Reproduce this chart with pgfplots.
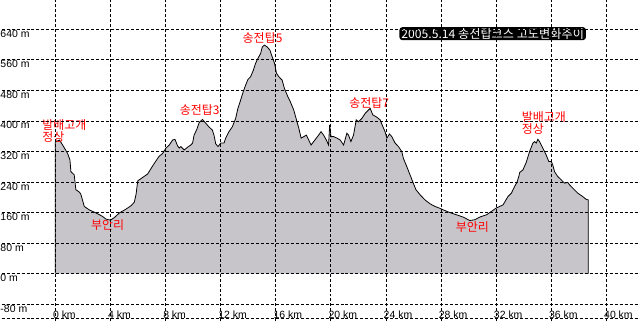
\documentclass[border=0pt]{standalone}
\usepackage{pgfplots}
\usepackage{pgfplotstable}
\usepackage{fontspec}
\pgfplotsset{compat=1.18}
\setmainfont{Liberation Sans}
\newfontfamily\kr{Noto Sans CJK KR}
\definecolor{fillgray}{RGB}{199,197,202}
\definecolor{lblred}{RGB}{255,0,0}
\pgfplotstableread{
km m
0 0
0 345
0.3 350
0.53 337
0.89 315
1.06 298
1.13 267
1.37 259
1.49 220
1.76 213
1.86 207
2.10 176
2.46 167
2.94 159
3.42 150
3.66 143
4.00 140
4.29 147
4.65 159
5.13 169
5.50 178
5.73 187
5.86 208
5.98 243
6.34 252
6.70 261
7.06 282
7.30 295
7.52 307
7.79 315
8.03 329
8.27 337
8.51 350
8.68 352
8.87 335
8.99 329
9.11 333
9.35 324
9.59 331
9.83 337
9.96 342
10.07 363
10.27 378
10.44 396
10.68 404
10.92 394
11.16 384
11.40 376
11.52 362
11.64 340
11.81 333
12.00 342
12.24 342
12.36 355
12.60 372
12.85 385
13.09 407
13.25 433
13.45 455
13.64 477
13.81 494
13.98 509
14.17 516
14.37 533
14.53 551
14.70 564
14.90 577
15.02 594
15.18 599
15.38 594
15.57 586
15.74 568
15.91 551
16.05 525
16.22 516
16.46 507
16.63 485
16.87 464
17.06 450
17.30 429
17.50 403
17.67 381
17.84 355
18.03 359
18.22 363
18.39 350
18.56 337
18.75 346
18.94 355
19.11 363
19.28 372
19.47 363
19.67 350
19.83 337
19.91 390
20.01 359
20.20 359
20.44 355
20.68 350
20.92 337
21.16 368
21.28 363
21.45 346
21.64 363
21.84 403
22.00 398
22.25 407
22.49 420
22.73 429
22.85 433
23.04 416
23.33 410
23.57 403
23.77 385
23.93 372
24.06 355
24.25 366
24.42 359
24.66 342
24.90 333
25.14 320
25.26 302
25.50 281
25.74 259
25.98 237
26.17 220
26.46 207
26.83 193
27.19 183
27.55 176
27.91 171
28.15 167
28.63 160
29.12 154
29.60 148
30.08 139
30.44 141
30.80 148
31.29 154
31.65 163
32.01 172
32.49 180
32.85 202
33.10 211
33.33 228
33.50 239
33.65 256
33.70 265
33.94 272
34.18 292
34.42 320
34.66 342
34.78 346
34.90 342
35.02 352
35.14 346
35.38 329
35.62 311
35.81 294
35.99 294
36.10 285
36.23 267
36.47 254
36.71 246
36.95 237
37.19 239
37.31 233
37.55 224
37.91 211
38.27 202
38.51 195
38.68 193
38.68 0
}\profile
\begin{document}
\begin{tikzpicture}
\begin{axis}[
  scale only axis, width=640pt, height=322pt,
  xmin=-3.9, xmax=42.4, ymin=-125.5, ymax=716,
  axis line style={draw=none},
  axis on top,
  xtick={0,4,...,40},
  xticklabels={0 km,4 km,8 km,12 km,16 km,20 km,24 km,28 km,32 km,36 km,40 km},
  ytick={-80,0,...,640},
  yticklabels={-80 m,0 m,80 m,160 m,240 m,320 m,400 m,480 m,560 m,640 m},
  extra y ticks={-118},
  extra y tick labels={},
  extra y tick style={grid style={gray!45, solid, line width=1pt}},
  major tick length=0pt,
  grid=major,
  major grid style={black, line width=0.9pt, dash pattern=on 3pt off 2pt},
  tick label style={font=\fontsize{10.5}{12}\selectfont, inner sep=0.5pt},
  yticklabel style={anchor=north west},
  yticklabel shift={1.8pt},
  xticklabel style={anchor=south west, xshift=-3pt},
  xticklabel shift={-2.5pt},
  clip=false,
]
\addplot[fill=fillgray, draw=none] table[x=km, y=m] {\profile};
\addplot[black, line width=0.8pt] table[x=km, y=m] {\profile};
\begin{scope}[every node/.style={text=lblred, font=\kr\fontsize{12}{14}\selectfont, inner sep=0pt}]
\node[anchor=north west, align=left] at (axis cs:-0.95,403) {발배고개\\[-2pt]정상};
\node at (axis cs:3.80,128) {부안리};
\node at (axis cs:10.48,429) {송전탑3};
\node at (axis cs:15.04,617) {송전탑5};
\node at (axis cs:22.78,448) {송전탑7};
\node at (axis cs:30.26,123) {부안리};
\node[anchor=north west, align=left] at (axis cs:33.84,424) {발배고개\\[-2pt]정상};
\end{scope}
\node[fill=black, text=white, rounded corners=3pt, inner xsep=2pt, inner ysep=1pt,
      font=\kr\fontsize{12.2}{13}\selectfont] at (axis cs:31.74,629) {2005.5.14 송전탑코스 고도변화추이};
\end{axis}
\end{tikzpicture}
\end{document}
